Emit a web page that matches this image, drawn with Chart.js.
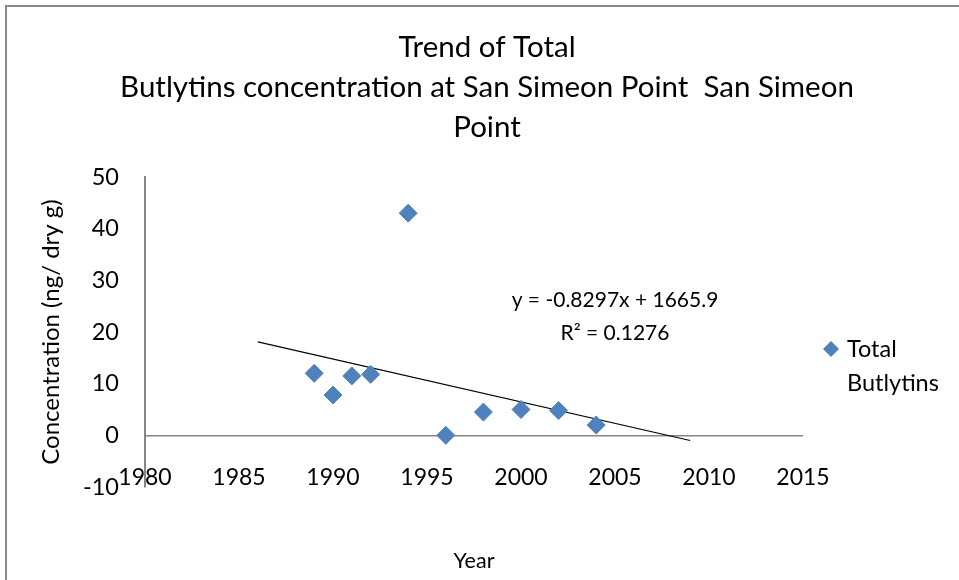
<!DOCTYPE html>
<html>
<head>
<meta charset="utf-8">
<script src="https://cdn.jsdelivr.net/npm/chart.js@4/dist/chart.umd.min.js"></script>
<style>
  html, body { margin: 0; padding: 0; background: #fff; }
  canvas { display: block; }
</style>
</head>
<body>
<canvas id="chart" width="959" height="580"></canvas>
<script>
const FONT = 'Lato';

// data
const years = [1989, 1990, 1991, 1992, 1994, 1996, 1998, 2000, 2002, 2004];
const butyltins = [12, 7.8, 11.5, 11.8, 43, 0, 4.5, 5, 4.8, 2];
const trendYears = [1986, 2009];
const trendValues = [18.1, -1.0];
const xTicks = [1980, 1985, 1990, 1995, 2000, 2005, 2010, 2015];
const yTicks = [-10, 0, 10, 20, 30, 40, 50];
const titleLines = ['Trend of Total', 'Butlytins concentration at San Simeon Point  San Simeon', 'Point'];
const equationLines = ['y = -0.8297x + 1665.9', 'R\u00B2 = 0.1276'];
const seriesName = ['Total', 'Butlytins'];

const BLUE = '#4F81BD';
const GREY = '#868686';

const extras = {
  id: 'extras',
  afterDraw(chart) {
    const ctx = chart.ctx;
    ctx.save();
    // outer frame (top and left only visible)
    ctx.strokeStyle = '#8a8a8a';
    ctx.lineWidth = 2;
    ctx.beginPath();
    ctx.moveTo(6, 580);
    ctx.lineTo(6, 6);
    ctx.lineTo(959, 6);
    ctx.stroke();

    // title, centred on the whole frame
    ctx.fillStyle = '#000';
    ctx.textAlign = 'center';
    ctx.textBaseline = 'middle';
    ctx.font = '29.5px ' + FONT;
    titleLines.forEach((t, i) => ctx.fillText(t, 487, 47 + i * 40));

    // trendline label
    ctx.font = '21px ' + FONT;
    ctx.fillText(equationLines[0], 615, 300);
    ctx.fillText(equationLines[1], 615, 333);

    // legend
    ctx.fillStyle = BLUE;
    ctx.beginPath();
    ctx.moveTo(831, 341); ctx.lineTo(839, 349); ctx.lineTo(831, 357); ctx.lineTo(823, 349);
    ctx.closePath();
    ctx.fill();
    ctx.fillStyle = '#000';
    ctx.font = '23.5px ' + FONT;
    ctx.textAlign = 'left';
    ctx.fillText(seriesName[0], 847, 349);
    ctx.fillText(seriesName[1], 847, 383);
    ctx.restore();
  }
};

new Chart(document.getElementById('chart'), {
  type: 'scatter',
  data: {
    datasets: [
      {
        label: seriesName.join(' '),
        data: years.map((x, i) => ({ x, y: butyltins[i] })),
        pointStyle: 'rectRot',
        pointRadius: 9,
        pointHoverRadius: 9,
        backgroundColor: BLUE,
        borderColor: BLUE,
        borderWidth: 1
      },
      {
        label: 'Linear',
        data: trendYears.map((x, i) => ({ x, y: trendValues[i] })),
        showLine: true,
        pointRadius: 0,
        borderColor: '#000',
        borderWidth: 1.2,
        fill: false
      }
    ]
  },
  options: {
    responsive: false,
    animation: false,
    layout: { padding: { left: 0, right: 156, top: 177, bottom: 0 } },
    plugins: {
      legend: { display: false },
      tooltip: { enabled: false },
      title: { display: false }
    },
    scales: {
      x: {
        type: 'linear',
        min: 1980,
        max: 2015,
        afterBuildTicks: s => { s.ticks = xTicks.map(v => ({ value: v })); },
        afterFit: s => { s.height = 93; },
        grid: { display: false, drawTicks: false },
        border: { display: false },
        // mirrored so the labels sit just above the -10 line, as in the original
        ticks: {
          color: '#000',
          font: { family: FONT, size: 23 },
          mirror: true,
          padding: -4,
          maxRotation: 0,
          callback: v => String(v)
        },
        title: { display: true, text: 'Year', color: '#000', font: { family: FONT, size: 21.5 }, padding: { top: 0, bottom: 6 } }
      },
      y: {
        min: -10,
        max: 50,
        afterBuildTicks: s => { s.ticks = yTicks.map(v => ({ value: v })); },
        afterFit: s => { s.width = 145; },
        grid: {
          drawTicks: false,
          color: c => (c.tick && c.tick.value === 0 ? GREY : 'rgba(0,0,0,0)'),
          lineWidth: 1.5
        },
        border: { display: true, color: GREY, width: 2 },
        ticks: { color: '#000', font: { family: FONT, size: 23.5 }, padding: 26 },
        title: { display: true, text: 'Concentration (ng/ dry g)', color: '#000', font: { family: FONT, size: 24 }, padding: { top: 37, bottom: 0 } }
      }
    }
  },
  plugins: [extras]
});
</script>
</body>
</html>
